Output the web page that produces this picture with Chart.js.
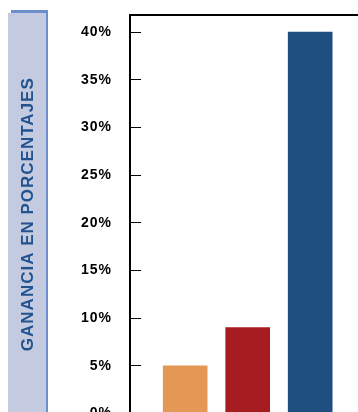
<!DOCTYPE html>
<html>
<head>
<meta charset="utf-8">
<script src="https://cdn.jsdelivr.net/npm/chart.js@4"></script>
<style>
  html, body { margin: 0; padding: 0; background: #fff; overflow: hidden; width: 358px; height: 412px; }
  #wrap { position: relative; width: 358px; height: 460px; }
  #shadow { position: absolute; left: 11px; top: 10px; width: 37px; height: 450px; background: #6C8FCB; }
  #band { position: absolute; left: 8px; top: 13px; width: 38px; height: 450px; background: #C4CADF; }
  #c { position: absolute; left: 0; top: 0; }
</style>
</head>
<body>
<div id="wrap">
  <div id="shadow"></div>
  <div id="band"></div>
  <canvas id="c" width="358" height="460"></canvas>
</div>
<script>
// ---- data ----
const categories = ['Serie 1', 'Serie 2', 'Serie 3'];
const positions = [1, 2, 3];
const values = [5, 9, 40];
const barColors = ['#E39955', '#A61C21', '#1F4F80'];
const yTicks = [0, 5, 10, 15, 20, 25, 30, 35, 40];
const yTitle = 'GANANCIA EN PORCENTAJES';

const points = positions.map((p, i) => ({ x: p, y: values[i], label: categories[i] }));

const spacingPlugin = {
  id: 'spacing',
  beforeDraw(chart) { chart.ctx.letterSpacing = '1px'; }
};

new Chart(document.getElementById('c'), {
  type: 'bar',
  data: {
    datasets: [{
      data: points,
      backgroundColor: barColors,
      borderWidth: 0,
      barThickness: 44
    }]
  },
  plugins: [spacingPlugin],
  options: {
    responsive: false,
    animation: false,
    devicePixelRatio: 1,
    layout: { padding: { left: 0, top: 15, right: 0, bottom: 46.6 } },
    plugins: { legend: { display: false }, tooltip: { enabled: false } },
    scales: {
      x: {
        type: 'linear',
        display: false,
        offset: false,
        grid: { offset: false },
        min: 0.117,
        max: 3.765
      },
      x2: {
        type: 'linear',
        axis: 'x',
        position: 'top',
        display: true,
        offset: false,
        ticks: { display: false },
        grid: { display: false, drawTicks: false },
        border: { display: true, color: '#000', width: 2 },
        afterFit: s => { s.height = 0; s.paddingLeft = 0; s.paddingRight = 0; }
      },
      y: {
        type: 'linear',
        position: 'left',
        min: 0,
        max: 41.8,
        afterBuildTicks: s => { s.ticks = yTicks.map(v => ({ value: v })); },
        afterFit: s => { s.width = 130; s.paddingTop = 0; s.paddingBottom = 0; },
        ticks: {
          callback: v => v + '%',
          color: '#000',
          padding: 29,
          font: { family: 'Liberation Sans, Arial, sans-serif', size: 14, weight: 'bold' }
        },
        grid: {
          display: true,
          drawOnChartArea: false,
          drawTicks: true,
          tickLength: -11,
          tickColor: '#000',
          tickWidth: 1
        },
        border: { display: true, color: '#000', width: 2 },
        title: {
          display: true,
          text: yTitle,
          color: '#22538F',
          padding: { top: 18, bottom: 0 },
          font: { family: 'Liberation Sans, Arial, sans-serif', size: 17, weight: 'bold' }
        }
      }
    }
  }
});
</script>
</body>
</html>
